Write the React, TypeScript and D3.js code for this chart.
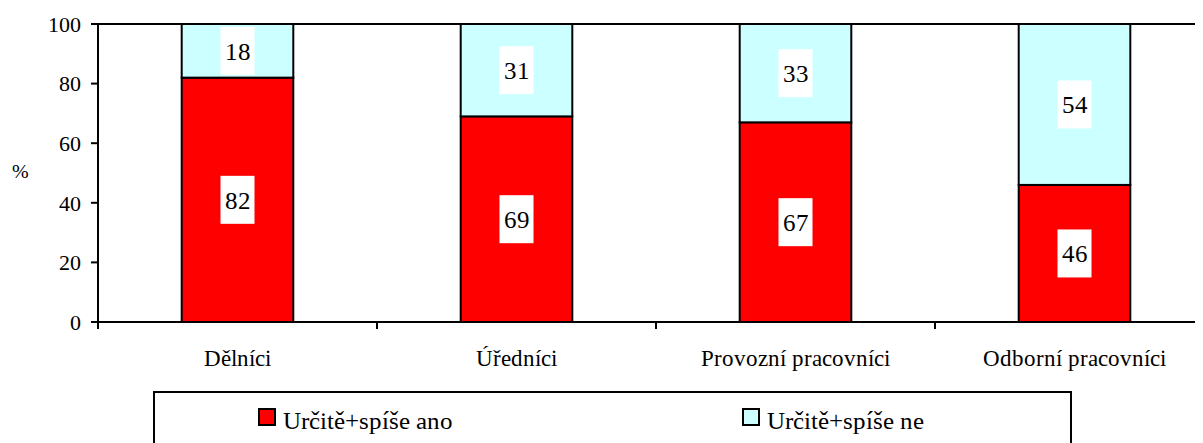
import React from "react";
import * as d3 from "d3";

// kategorie a hodnoty (%)
const categories = ["Dělníci", "Úředníci", "Provozní pracovníci", "Odborní pracovníci"];
const yesValues = [82, 69, 67, 46];
const noValues = [18, 31, 33, 54];
const seriesNames = ["Určitě+spíše ano", "Určitě+spíše ne"];
const seriesColors = ["#FF0000", "#CCFFFF"];
const yTicks = [0, 20, 40, 60, 80, 100];

const FONT = "ChartSerif, 'Liberation Serif', 'Times New Roman', serif";
const fontCss = `@font-face { font-family: "ChartSerif"; src: local("Liberation Serif"), local("LiberationSerif"), local("LiberationSerif-Regular"); }`;

export default function App() {
  const width = 1203,
    height = 443;
  const left = 98,
    top = 24,
    bottom = 322,
    plotRight = 1214;

  const x = d3.scaleBand().domain(categories).range([left, plotRight]).paddingInner(0.6).paddingOuter(0.3);
  const outer = d3.scaleBand().domain(categories).range([left, plotRight]);
  const y = d3.scaleLinear().domain([0, 100]).range([bottom, top]);

  const rows = categories.map((c, i) => ({ c, yes: yesValues[i], no: noValues[i] }));
  const stacked = d3.stack<any>().keys(["yes", "no"])(rows);

  return (
    <div style={{ margin: "-8px 0 0 -8px", width: width, height: height, overflow: "hidden" }}>
      <style>{fontCss}</style>
      <svg width={width} height={height} fontFamily={FONT}>
        {/* horní okraj plochy grafu */}
        <line x1={left} x2={width} y1={top} y2={top} stroke="#000" strokeWidth={2} />

        {stacked.map((s, si) =>
          s.map((d, i) => (
            <rect
              key={`${si}-${i}`}
              x={x(categories[i])}
              y={y(d[1])}
              width={x.bandwidth()}
              height={y(d[0]) - y(d[1])}
              fill={seriesColors[si]}
              stroke="#000"
              strokeWidth={2}
            />
          ))
        )}

        {/* popisky hodnot */}
        {stacked.map((s, si) =>
          s.map((d, i) => {
            const cx = x(categories[i])! + x.bandwidth() / 2;
            const cy = y((d[0] + d[1]) / 2);
            return (
              <g key={`l${si}-${i}`}>
                <rect x={cx - 17} y={cy - 24} width={34} height={48} fill="#fff" />
                <text x={cx} y={cy} dy="0.35em" textAnchor="middle" fontSize={25} fontFamily={FONT} fill="#000">
                  {d[1] - d[0]}
                </text>
              </g>
            );
          })
        )}

        {/* osa Y */}
        <line x1={left} x2={left} y1={top - 1} y2={bottom + 7} stroke="#000" strokeWidth={2} />
        {yTicks.map((t) => (
          <g key={t}>
            <line x1={left - 7} x2={left} y1={y(t)} y2={y(t)} stroke="#000" strokeWidth={2} />
            <text x={81} y={y(t)} dy="0.35em" textAnchor="end" fontSize={22} fontFamily={FONT} fill="#000">
              {t}
            </text>
          </g>
        ))}
        <text x={20} y={171} dy="0.35em" textAnchor="middle" fontSize={20} fontFamily={FONT} fill="#000">
          %
        </text>

        {/* osa X */}
        <line x1={left} x2={width} y1={bottom} y2={bottom} stroke="#000" strokeWidth={2} />
        {categories.map((c) => (
          <g key={c}>
            <line x1={outer(c)! + outer.bandwidth()} x2={outer(c)! + outer.bandwidth()} y1={bottom} y2={bottom + 7} stroke="#000" strokeWidth={2} />
            <text x={outer(c)! + outer.bandwidth() / 2} y={366} textAnchor="middle" fontSize={23} fontFamily={FONT} fill="#000">
              {c}
            </text>
          </g>
        ))}

        {/* legenda */}
        <rect x={154} y={392} width={917} height={60} fill="#fff" stroke="#000" strokeWidth={2} />
        {seriesNames.map((n, i) => {
          const lx = [259, 743][i];
          return (
            <g key={n}>
              <rect x={lx} y={409} width={16} height={16} fill={seriesColors[i]} stroke="#000" strokeWidth={2} />
              <text x={lx + 24} y={429} fontSize={25} fontFamily={FONT} fill="#000">
                {n}
              </text>
            </g>
          );
        })}
      </svg>
    </div>
  );
}
